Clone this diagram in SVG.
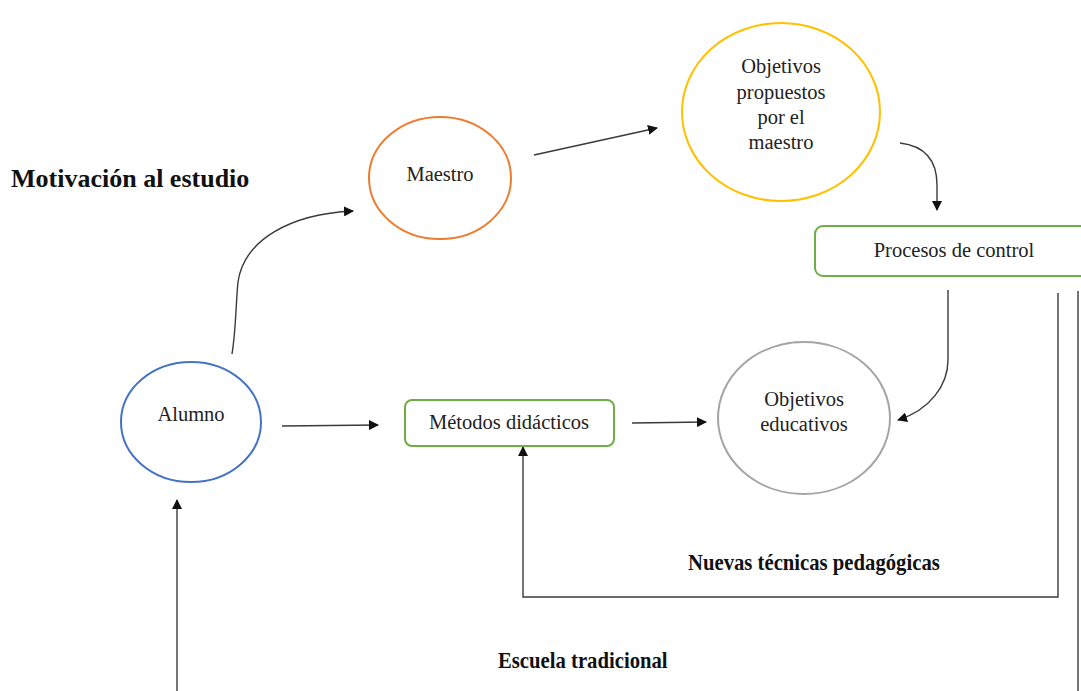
<svg xmlns="http://www.w3.org/2000/svg" width="1081" height="691" viewBox="0 0 1081 691">
<defs>
<style>
.lbl{font-family:"Liberation Serif","Times New Roman",serif;font-size:20.5px;fill:#222;text-anchor:middle}
.bold{font-family:"Liberation Serif","Times New Roman",serif;font-weight:bold;fill:#111}
.conn{fill:none;stroke:#3a3a3a;stroke-width:1.4}
.arr{marker-end:url(#ah)}
</style>
<marker id="ah" viewBox="0 0 10 10" refX="9" refY="5" markerWidth="10" markerHeight="10" markerUnits="userSpaceOnUse" orient="auto">
<path d="M0,0 L10,5 L0,10 z" fill="#111"/>
</marker>
</defs>
<rect width="1081" height="691" fill="#ffffff"/>

<text class="bold" x="11" y="187" font-size="26">Motivación al estudio</text>

<g id="connectors">
<path class="conn arr" d="M232,354 C236,330 236,300 238,282 C244,240 290,214 353,211"/>
<path class="conn arr" d="M534,155 L657,128"/>
<path class="conn arr" d="M900,143 C925,146 937,160 937,185 L937,210"/>
<path class="conn arr" d="M948,290 L948,360 C948,385 930,410 898,420"/>
<path class="conn arr" d="M282,426 L378,425"/>
<path class="conn arr" d="M632,423 L706,422"/>
<path class="conn arr" d="M1058,293 L1058,597 L523,597 L523,447"/>
<path class="conn" d="M1078,291 L1078,691"/>
<path class="conn arr" d="M177,691 L177,500"/>
</g>

<g id="maestro">
<ellipse cx="440" cy="178" rx="71" ry="61" fill="none" stroke="#ed7d31" stroke-width="2"/>
<text class="lbl" x="440" y="181">Maestro</text>
</g>

<g id="objetivos-propuestos">
<ellipse cx="781" cy="112" rx="99" ry="89" fill="none" stroke="#ffc000" stroke-width="2"/>
<text class="lbl" x="781" y="73">Objetivos</text>
<text class="lbl" x="781" y="99">propuestos</text>
<text class="lbl" x="781" y="124">por el</text>
<text class="lbl" x="781" y="149">maestro</text>
</g>

<g id="procesos">
<rect x="815" y="226" width="274" height="50" rx="8" fill="none" stroke="#70ad47" stroke-width="2"/>
<text class="lbl" x="954" y="257">Procesos de control</text>
</g>

<g id="alumno">
<ellipse cx="191" cy="422" rx="70" ry="60" fill="none" stroke="#4472c4" stroke-width="2"/>
<text class="lbl" x="191" y="421">Alumno</text>
</g>

<g id="metodos">
<rect x="405" y="400" width="209" height="46" rx="7" fill="none" stroke="#70ad47" stroke-width="2"/>
<text class="lbl" x="509" y="429">Métodos didácticos</text>
</g>

<g id="objetivos-educativos">
<ellipse cx="804" cy="418" rx="86" ry="76" fill="none" stroke="#a5a5a5" stroke-width="2"/>
<text class="lbl" x="804" y="406">Objetivos</text>
<text class="lbl" x="804" y="431">educativos</text>
</g>

<text class="bold" font-size="23" transform="translate(688,570) scale(0.9,1)">Nuevas técnicas pedagógicas</text>
<text class="bold" font-size="23" transform="translate(498,668) scale(0.9,1)">Escuela tradicional</text>
</svg>
